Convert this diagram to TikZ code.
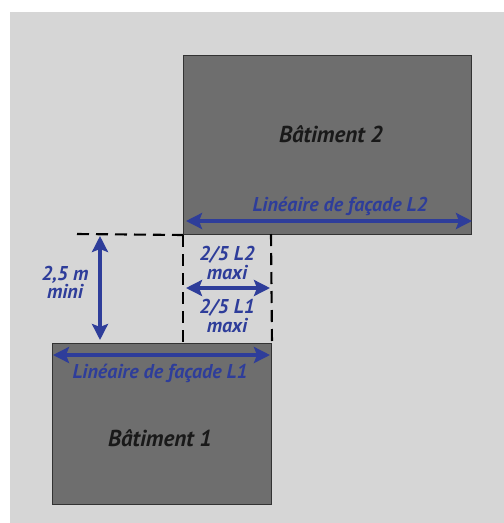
\documentclass[tikz,border=0pt]{standalone}
\usepackage{fontspec}
\setmainfont{PT Sans}
\usetikzlibrary{arrows.meta}
\definecolor{bgc}{HTML}{D6D6D6}
\definecolor{bldgc}{HTML}{6E6E6E}
\definecolor{dimblue}{HTML}{2E3D9A}
\begin{document}
\begin{tikzpicture}[x=1pt,y=-1pt,
  bldg/.style={draw=black!80, line width=1pt, fill=bldgc, inner sep=0pt, anchor=north west},
  dim/.style={draw=dimblue, line width=3.2pt, {Stealth[length=16pt,width=16pt,inset=3pt]}-{Stealth[length=16pt,width=16pt,inset=3pt]}},
  dimtext/.style={text=dimblue, font=\bfseries\itshape\fontsize{20}{17}\selectfont, align=center},
  bname/.style={text=black!90, font=\bfseries\itshape\fontsize{23}{26}\selectfont},
  guide/.style={draw=black, line width=2.1pt, dash pattern=on 12pt off 7pt}]
\useasboundingbox (0,0) rectangle (504,523);
\fill[bgc] (10,12) rectangle (504,523);
% buildings
\node[bldg, minimum width=288pt, minimum height=179pt] (b2) at (183,55) {};
\node[bldg, minimum width=219pt, minimum height=161pt] (b1) at (52,343) {};
\node[bname] (t2) at (331,134) {Bâtiment 2};
\node[bname] (t1) at (160,438) {Bâtiment 1};
% guide lines
\coordinate (g0) at (77,234);
\coordinate (g1) at (183,343);
\coordinate (g2) at (271,234);
\draw[guide] (g0) -- (b2.south west);
\draw[guide] (b2.south west) -- (g1);
\draw[guide] (g2) -- (b1.north east);
% dimension arrows
\coordinate (l2a) at (186,221);
\coordinate (l2b) at (472,221);
\draw[dim] (l2a) -- (l2b);
\node[dimtext] (l2t) at (340,206) {Linéaire de façade L2};
\coordinate (l1a) at (53,355);
\coordinate (l1b) at (270,355);
\draw[dim] (l1a) -- (l1b);
\node[dimtext] (l1t) at (160,373) {Linéaire de façade L1};
\coordinate (va) at (100,236);
\coordinate (vb) at (100,340);
\draw[dim] (va) -- (vb);
\node[dimtext] (vt) at (65,282) {2,5 m\\mini};
\coordinate (ma) at (186,288);
\coordinate (mb) at (270,288);
\draw[dim] (ma) -- (mb);
\node[dimtext] (mt2) at (227,263) {2/5 L2\\maxi};
\node[dimtext] (mt1) at (227,316) {2/5 L1\\maxi};
\end{tikzpicture}
\end{document}
